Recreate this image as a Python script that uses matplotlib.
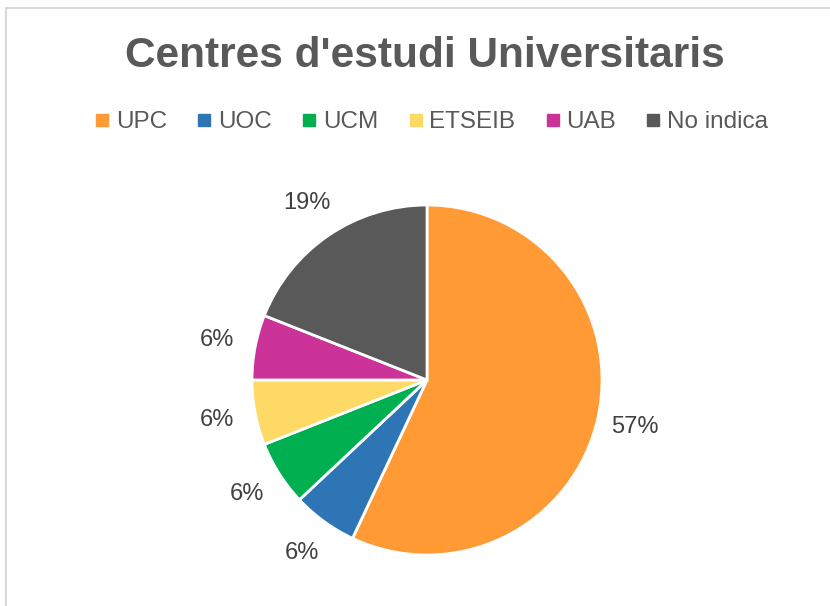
import matplotlib.pyplot as plt
from matplotlib.lines import Line2D
from matplotlib.patches import Rectangle

plt.rcParams['font.family'] = ['Liberation Sans', 'DejaVu Sans']

labels = ['UPC', 'UOC', 'UCM', 'ETSEIB', 'UAB', 'No indica']
values = [57, 6, 6, 6, 6, 19]
colors = ['#FF9A35', '#2E75B6', '#00B050', '#FFD966', '#CC3399', '#595959']
text_color = '#595959'

fig = plt.figure(figsize=(8.3, 6.06), dpi=100)

# chart frame (partly cut off at right/bottom)
fig.patches.append(Rectangle((6 / 830, -0.1), 1.2, 1 - 8 / 606 + 0.1,
                             transform=fig.transFigure, fill=False,
                             edgecolor='#D9D9D9', linewidth=1.5))

# pie axes: centre (427, 380), radius ~175 px
r = 175
ax = fig.add_axes([(427 - r) / 830, (606 - 380 - r) / 606, 2 * r / 830, 2 * r / 606])
wedges, texts = ax.pie(values, colors=colors, startangle=90, counterclock=False,
                       labels=[f'{v}%' for v in values], labeldistance=1.22,
                       wedgeprops=dict(edgecolor='white', linewidth=2),
                       textprops=dict(color='#404040', fontsize=17))
for t in texts:
    t.set_horizontalalignment('center')
    t.set_verticalalignment('center')
ax.set_xlim(-1, 1)
ax.set_ylim(-1, 1)
ax.set_aspect('equal')

fig.text(425 / 830, 1 - 56 / 606, "Centres d'estudi Universitaris",
         ha='center', va='center', fontsize=30.5, fontweight='bold', color=text_color)

handles = [Line2D([], [], marker='s', linestyle='', markersize=8,
                  markerfacecolor=c, markeredgecolor=c) for c in colors]
fig.legend(handles, labels, loc='center', bbox_to_anchor=(432 / 830, 1 - 122 / 606),
           ncol=6, frameon=False, fontsize=17.5, labelcolor=text_color,
           handlelength=0.5, handletextpad=0.3, columnspacing=1.3)

fig.savefig('out.png', dpi=100)
